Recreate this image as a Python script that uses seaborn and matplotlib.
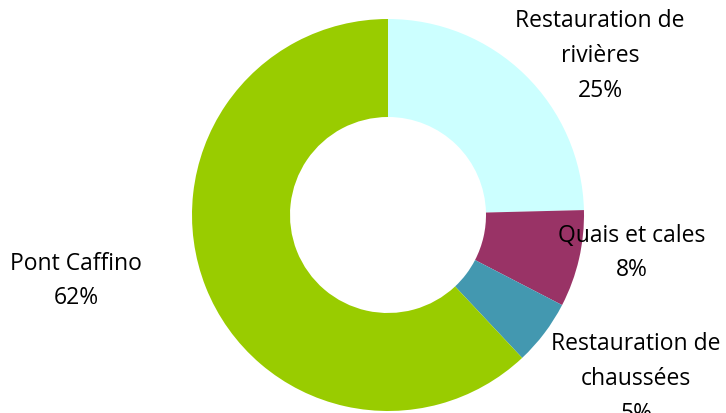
import matplotlib
matplotlib.use("Agg")
import matplotlib.pyplot as plt
import seaborn as sns

categories = ["Restauration de\nrivières", "Quais et cales", "Restauration de\nchaussées", "Pont Caffino"]
values = [24.6, 8.0, 5.4, 62.0]
colors = ["#CCFFFF", "#993366", "#4398B0", "#99CC00"]

# label centre positions in figure pixels (x, y from top)
label_pos = [(600, 56), (632, 253), (636, 379), (76, 281)]

sns.set_theme(style="white")
plt.rcParams["font.family"] = ["Open Sans", "DejaVu Sans"]

W, H = 726, 414
fig = plt.figure(figsize=(W / 100, H / 100), dpi=100)
cx, cy, r = 388, 216, 196
ax = fig.add_axes([(cx - r) / W, (H - cy - r) / H, 2 * r / W, 2 * r / H])
ax.pie(values, colors=colors, startangle=90, counterclock=False, radius=1.0,
       wedgeprops=dict(width=0.5, linewidth=0))
ax.set_xlim(-1, 1)
ax.set_ylim(-1, 1)
ax.set_aspect("equal")
ax.axis("off")

for cat, v, (px, py) in zip(categories, values, label_pos):
    fig.text(px / W, 1 - py / H, f"{cat}\n{v:.0f}%", ha="center", va="center",
             fontsize=16.5, linespacing=1.6, color="black")

fig.savefig("out.png", dpi=100)
